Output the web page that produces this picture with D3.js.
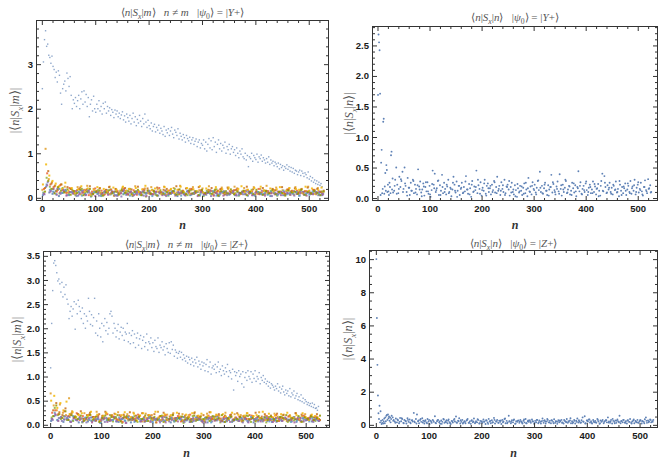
<!DOCTYPE html>
<html><head><meta charset="utf-8">
<script src="https://cdn.jsdelivr.net/npm/d3@7"></script>
<style>
body{margin:0;background:#fff}
svg{display:block}
.tick text{font-family:"Liberation Sans",Arial,sans-serif;font-weight:bold;font-size:9.5px;fill:#1a1a1a}
.tick line{stroke:#333}
.lbl{font-family:"Liberation Serif","Times New Roman",serif;fill:#555;white-space:pre}
</style></head><body>
<svg id="c" width="667" height="460"></svg>
<script>
// ---------------- DATA ----------------
const xMajorTicks = [0, 100, 200, 300, 400, 500];
const tlYTicks = [0, 1, 2, 3];
const trYTicks = [0, 0.5, 1, 1.5, 2, 2.5];
const blYTicks = [0, 0.5, 1, 1.5, 2, 2.5, 3, 3.5];
const brYTicks = [0, 2, 4, 6, 8, 10];

// Top-left |<n|Sx|m>|, n != m, psi0 = Y+ : main (large) branch, n = 1,3,5,...
const tlMain = [2.45,3.05,3.55,3.75,3.4,3.45,3.2,3.15,3.02,3.18,
2.95,2.88,2.7,2.82,2.6,2.85,2.75,2.35,2.1,2.45,
2.55,2.62,2.4,2.8,2.68,2.5,2.72,2.3,2.0,2.2,
2.12,2.25,2.05,2.18,2.3,2.0,2.22,2.38,2.1,2.4,
2.15,2.32,2.05,2.25,1.82,2.1,2.2,1.95,2.28,2.0,
1.92,2.1,2.0,2.18,1.95,2.05,1.88,2.12,2.0,2.15,
1.9,2.05,1.95,2.02,1.85,1.98,1.92,1.8,1.97,1.88,
1.95,1.82,1.9,1.78,1.86,1.93,1.75,1.84,1.7,1.88,
1.8,1.72,1.85,1.66,1.78,1.9,1.7,1.82,1.62,1.76,
1.68,1.85,1.72,1.6,1.78,1.66,1.88,1.7,1.58,1.74,
1.62,1.55,1.68,1.5,1.6,1.65,1.48,1.58,1.52,1.63,
1.45,1.56,1.5,1.42,1.6,1.38,1.52,1.46,1.55,1.4,
1.5,1.58,1.43,1.35,1.52,1.47,1.4,1.55,1.32,1.45,
1.38,1.3,1.42,1.35,1.25,1.4,1.33,1.28,1.36,1.22,
1.3,1.35,1.2,1.27,1.32,1.15,1.25,1.3,1.12,1.22,
1.18,1.3,1.1,1.25,1.05,1.2,1.33,1.12,1.28,1.08,
1.35,1.15,1.25,1.02,1.2,1.3,1.1,1.22,1.05,1.18,
1.12,1.25,1.0,1.15,1.08,1.2,0.98,1.1,1.15,1.02,
1.08,0.95,1.12,1.0,0.9,1.05,0.98,1.1,0.92,0.88,
1.0,0.85,0.95,0.7,0.92,0.88,1.0,0.82,0.95,0.9,
0.86,0.98,0.8,0.92,0.88,0.96,0.82,0.9,0.85,0.78,
0.88,0.8,0.92,0.75,0.85,0.78,0.82,0.72,0.8,0.76,
0.7,0.78,0.65,0.75,0.68,0.72,0.62,0.7,0.66,0.74,
0.64,0.7,0.6,0.68,0.58,0.66,0.55,0.62,0.6,0.52,
0.58,0.62,0.5,0.6,0.55,0.48,0.56,0.52,0.45,0.58,
0.42,0.48,0.38,0.45,0.35,0.4,0.32,0.38,0.3,0.35,
0.28,0.32,0.25];

// Top-left small-element series (every 6th n)
const tlOrange = [.18,1.1,.42,.35,.28,.22,.3,.25,.12,.2,.15,.24,.08,.18,.27,.1,.2,.14,.22,.06,.17,.25,.12,.19,.09,.23,.15,.2,.11,.26,.14,.07,.21,.16,.24,.1,.19,.13,.25,.08,.18,.22,.12,.27,.15,.09,.2,.24,.13,.17,.21,.1,.26,.15,.19,.07,.23,.14,.2,.12,.25,.16,.09,.22,.18,.13,.24,.11,.2,.15,.27,.1,.19,.23,.14,.17,.08,.21,.16,.24,.12,.2,.15,.25,.1,.18,.22,.14];
const tlGold = [.3,.75,.5,.38,.32,.26,.2,.34,.16,.22,.1,.19,.26,.13,.21,.07,.17,.24,.11,.2,.15,.09,.23,.18,.12,.25,.16,.2,.06,.22,.13,.19,.27,.1,.17,.21,.14,.08,.24,.16,.2,.11,.18,.25,.13,.22,.09,.19,.15,.26,.12,.21,.17,.08,.24,.14,.19,.11,.23,.16,.1,.2,.26,.13,.18,.15,.22,.09,.25,.17,.12,.21,.14,.19,.24,.1,.16,.22,.13,.2,.18,.11,.25,.15,.21,.09,.17,.23];
const tlGreen = [.12,.45,.25,.2,.16,.1,.22,.14,.08,.18,.06,.13,.2,.09,.15,.04,.12,.17,.07,.14,.1,.19,.05,.13,.16,.08,.11,.2,.06,.15,.09,.14,.03,.12,.18,.07,.13,.1,.16,.05,.12,.2,.08,.15,.11,.06,.17,.09,.14,.12,.04,.16,.1,.13,.19,.07,.12,.15,.08,.11,.17,.05,.14,.09,.12,.18,.06,.13,.1,.16,.08,.15,.11,.05,.14,.1,.17,.07,.12,.09,.15,.13,.06,.16,.1,.12,.08,.14];
const tlRed = [.2,.55,.3,.24,.14,.28,.18,.11,.22,.15,.09,.2,.12,.17,.06,.14,.21,.1,.16,.08,.13,.18,.05,.15,.11,.2,.09,.14,.17,.07,.12,.19,.1,.15,.08,.13,.22,.11,.06,.16,.14,.09,.18,.12,.07,.15,.2,.1,.13,.17,.08,.12,.16,.05,.14,.19,.11,.09,.15,.12,.18,.07,.13,.16,.1,.14,.06,.2,.12,.09,.15,.11,.17,.08,.13,.1,.19,.14,.07,.16,.12,.09,.15,.11,.18,.08,.13,.1];
const tlPurple = [.08,.35,.16,.12,.2,.09,.15,.06,.13,.1,.04,.11,.16,.07,.12,.09,.14,.05,.1,.13,.08,.15,.06,.11,.03,.12,.09,.14,.07,.1,.13,.05,.11,.08,.16,.06,.1,.12,.04,.09,.14,.07,.11,.13,.05,.1,.08,.15,.06,.12,.09,.11,.04,.13,.07,.1,.15,.06,.09,.12,.05,.11,.08,.14,.1,.06,.13,.09,.07,.12,.1,.04,.11,.08,.13,.06,.1,.12,.05,.09,.14,.07,.11,.08,.1,.13,.06,.09];
const tlSky = [.1,.3,.18,.14,.08,.2,.11,.16,.06,.12,.09,.14,.05,.11,.17,.07,.13,.1,.04,.12,.15,.08,.11,.06,.13,.09,.16,.05,.1,.14,.07,.12,.09,.15,.04,.11,.13,.08,.1,.06,.14,.09,.12,.05,.11,.16,.07,.1,.13,.08,.06,.12,.1,.15,.05,.09,.13,.11,.07,.14,.1,.06,.12,.08,.15,.11,.05,.13,.09,.1,.07,.14,.12,.06,.1,.16,.08,.11,.09,.13,.05,.12,.1,.07,.14,.09,.11,.06];
const tlBlue2 = [.06,.25,.12,.09,.15,.04,.11,.18,.07,.13,.1,.05,.16,.08,.12,.03,.14,.09,.11,.06,.17,.08,.13,.05,.1,.15,.07,.12,.04,.09,.14,.06,.11,.16,.08,.1,.05,.13,.07,.12,.09,.15,.04,.11,.08,.14,.06,.1,.13,.05,.12,.07,.16,.09,.11,.04,.13,.08,.1,.15,.06,.12,.09,.14,.05,.11,.07,.13,.1,.08,.15,.04,.12,.09,.11,.06,.14,.08,.1,.13,.05,.11,.07,.12,.09,.15,.06,.1];
const tlBrown = [.22,.6,.32,.26,.18,.3,.14,.24,.2,.1,.17,.23,.12,.19,.26,.08,.15,.21,.11,.18,.24,.13,.2,.1,.16,.22,.07,.19,.14,.25,.11,.17,.21,.09,.15,.23,.12,.18,.2,.1,.14,.26,.08,.16,.21,.13,.19,.11,.24,.15,.09,.18,.22,.12,.16,.2,.07,.23,.13,.17,.21,.1,.15,.25,.12,.19,.14,.08,.22,.16,.11,.2,.17,.13,.24,.09,.18,.15,.21,.12,.19,.14,.23,.1,.17,.2,.13,.16];
const tlPink = [.09,.28,.14,.2,.07,.12,.17,.05,.13,.1,.15,.08,.12,.06,.16,.1,.04,.13,.09,.15,.07,.11,.14,.05,.1,.17,.08,.12,.06,.13,.1,.15,.04,.11,.08,.14,.12,.06,.16,.09,.11,.05,.13,.1,.07,.15,.09,.12,.04,.14,.08,.11,.16,.06,.1,.13,.05,.12,.09,.15,.07,.1,.13,.08,.14,.06,.11,.09,.16,.05,.12,.1,.08,.14,.06,.13,.11,.07,.15,.09,.1,.13,.05,.12,.08,.11,.14,.07];
const tlOlive = [.14,.38,.2,.1,.24,.16,.12,.19,.07,.15,.11,.18,.06,.14,.2,.09,.13,.16,.05,.12,.17,.1,.14,.07,.19,.11,.15,.08,.13,.18,.06,.12,.16,.1,.14,.05,.17,.09,.13,.11,.15,.07,.19,.12,.08,.16,.1,.14,.06,.18,.11,.13,.09,.17,.05,.15,.12,.1,.19,.08,.14,.11,.16,.06,.13,.09,.18,.12,.07,.15,.1,.17,.08,.13,.11,.05,.16,.12,.14,.09,.18,.07,.13,.1,.15,.11,.06,.14];

// Top-right |<n|Sx|n>|, psi0 = Y+ : n = 1..30, n = 32,34,...,526 and n = 33,37,...,525
const trHead = [1.69,2.68,2.55,2.42,1.71,0.05,0.58,0.79,0.08,0.15,1.25,1.3,0.07,0.19,0.41,0.12,0.54,0.46,0.1,0.22,0.11,0.05,0.25,0.18,0.08,0.7,0.76,0.14,0.32,0.09];
const trTail = [.12,.3,.5,.22,.08,.35,.18,.28,.43,.15,
.5,.2,.1,.33,.17,.05,.25,.12,.3,.08,
.22,.15,.06,.47,.19,.27,.09,.14,.24,.04,
.18,.11,.26,.07,.2,.02,.13,.45,.22,.4,
.1,.16,.28,.05,.21,.12,.38,.08,.25,.15,
.06,.19,.3,.1,.17,.03,.14,.35,.22,.09,
.27,.12,.2,.05,.15,.25,.08,.18,.11,.36,
.14,.07,.23,.16,.02,.28,.1,.19,.13,.45,
.08,.21,.15,.26,.04,.17,.12,.3,.07,.2,
.24,.1,.16,.06,.22,.13,.28,.09,.18,.35,
.12,.2,.05,.26,.15,.1,.3,.08,.19,.22,
.14,.04,.18,.25,.1,.06,.21,.13,.02,.16,
.09,.2,.12,.05,.17,.24,.08,.14,.03,.33,
.11,.19,.06,.26,.15,.22,.09,.17,.28,.13,
.43,.1,.2,.07,.16,.25,.12,.05,.21,.14,
.18,.38,.09,.23,.13,.06,.19,.27,.11,.39,
.15,.04,.22,.1,.17,.28,.08,.14,.2,.06,
.12,.25,.16,.09,.21,.03,.18,.44,.11,.26,
.07,.15,.2,.1,.24,.13,.05,.17,.22,.08,
.14,.27,.1,.19,.06,.16,.23,.12,.04,.28,
.4,.11,.36,.18,.08,.21,.14,.25,.1,.17,
.06,.2,.13,.27,.09,.15,.03,.22,.12,.18,
.08,.16,.24,.05,.14,.2,.1,.28,.07,.19,
.12,.3,.06,.17,.22,.09,.15,.25,.11,.04,
.18,.29,.13,.08,.31,.16,.21,.1];
const trTail2 = [.2,.07,.15,.31,.1,.24,.04,.17,.12,.28,
.09,.21,.14,.03,.19,.26,.11,.06,.23,.16,
.13,.29,.05,.18,.1,.22,.08,.15,.25,.12,
.02,.2,.17,.09,.27,.14,.06,.22,.11,.18,
.3,.07,.13,.24,.04,.16,.2,.1,.26,.08,
.15,.12,.21,.05,.18,.28,.09,.14,.03,.23,
.11,.19,.07,.25,.16,.1,.2,.13,.06,.29,
.17,.08,.22,.12,.04,.18,.26,.1,.15,.07,
.21,.14,.3,.09,.19,.05,.24,.11,.16,.2,
.06,.13,.27,.1,.18,.08,.23,.15,.03,.2,
.12,.25,.09,.17,.07,.22,.14,.1,.28,.05,
.19,.12,.24,.08,.16,.21,.1,.26,.13,.06,
.18,.11,.15,.09];

// Bottom-left |<n|Sx|m>|, n != m, psi0 = Z+ : main branch, n = 1,3,5,...
const blMain = [1.18,2.1,2.78,3.35,3.4,3.3,3.15,2.98,3.02,2.92,
2.75,2.95,2.65,2.85,2.7,2.9,2.6,2.5,2.2,2.35,
2.45,2.25,2.4,2.55,1.98,2.5,2.3,2.58,2.45,2.35,
2.2,2.42,2.1,2.3,2.0,2.25,2.15,2.62,2.35,2.08,
2.28,2.05,2.22,2.62,1.9,2.15,1.85,2.3,2.0,1.82,
2.1,1.72,2.05,2.2,1.95,2.12,1.88,2.0,2.3,2.35,
2.25,1.9,2.1,2.0,1.82,1.95,2.08,1.78,1.92,2.02,
1.85,2.0,1.75,1.92,1.88,2.1,1.72,1.9,1.68,1.85,
1.95,1.7,1.88,1.6,1.8,1.9,1.65,1.78,1.85,1.58,
1.75,1.82,1.62,1.7,1.88,1.55,1.72,1.68,1.8,1.6,
1.7,1.52,1.75,1.62,1.58,1.8,1.5,1.65,1.6,1.72,
1.55,1.62,1.45,1.68,1.58,1.5,1.7,1.48,1.72,1.56,
1.65,1.42,1.55,1.5,1.38,1.48,1.52,1.4,1.5,1.35,
1.45,1.38,1.32,1.42,1.28,1.4,1.35,1.25,1.38,1.3,
1.22,1.35,1.28,1.4,1.2,1.32,1.25,1.15,1.3,1.22,
1.28,1.12,1.25,1.35,1.1,1.2,1.3,1.05,1.18,1.22,
1.15,1.25,1.08,1.2,1.3,1.1,1.15,1.02,1.22,1.12,
1.05,1.18,1.1,1.25,1.0,1.12,1.08,0.95,1.15,0.72,
1.1,1.02,1.08,0.9,1.12,1.0,1.05,0.85,1.1,0.78,
0.98,1.08,0.92,1.12,1.0,0.95,1.1,0.88,1.05,0.96,
1.12,0.9,1.0,0.95,1.08,0.85,0.98,0.92,1.02,0.88,
0.95,0.85,0.9,0.8,0.88,0.76,0.85,0.82,0.78,0.72,
0.8,0.75,0.85,0.7,0.78,0.66,0.74,0.8,0.68,0.62,
0.72,0.65,0.7,0.6,0.75,0.58,0.66,0.62,0.7,0.55,
0.6,0.65,0.52,0.58,0.5,0.62,0.48,0.55,0.45,0.52,
0.48,0.42,0.46,0.4,0.44,0.38,0.45,0.36,0.42,0.34,
0.35,0.3,0.38];

const blOrange = [.65,.4,.3,.42,.25,.2,.55,.28,.18,.22,.13,.24,.1,.2,.16,.27,.09,.19,.23,.12,.2,.15,.26,.08,.18,.22,.11,.25,.14,.19,.07,.23,.16,.2,.12,.27,.1,.18,.21,.13,.24,.09,.17,.22,.15,.2,.11,.26,.14,.18,.08,.23,.16,.12,.21,.19,.1,.25,.13,.17,.22,.09,.2,.15,.24,.11,.18,.14,.26,.12,.19,.16,.1,.23,.17,.13,.21,.08,.2,.15,.24,.11,.18,.22,.14,.19,.1,.16];
const blGold = [.5,.6,.35,.45,.3,.48,.22,.26,.15,.2,.24,.11,.19,.27,.14,.21,.08,.18,.25,.13,.17,.22,.1,.2,.26,.12,.16,.23,.09,.19,.24,.14,.2,.11,.27,.15,.18,.22,.1,.2,.13,.25,.17,.09,.21,.16,.24,.12,.19,.23,.11,.18,.26,.14,.2,.1,.22,.17,.13,.25,.15,.21,.09,.19,.24,.12,.18,.2,.14,.27,.1,.23,.16,.19,.13,.22,.11,.25,.17,.14,.2,.12,.24,.16,.1,.21,.18,.13];
const blGreen = [.15,.35,.2,.12,.18,.1,.22,.08,.16,.13,.05,.14,.19,.09,.12,.17,.06,.13,.1,.2,.07,.15,.11,.04,.16,.09,.13,.18,.06,.12,.14,.08,.17,.1,.05,.13,.19,.09,.11,.15,.07,.12,.16,.04,.14,.1,.18,.08,.13,.11,.06,.15,.09,.17,.12,.05,.14,.1,.16,.08,.13,.11,.07,.15,.18,.06,.12,.09,.14,.1,.05,.16,.11,.13,.08,.17,.12,.06,.14,.09,.11,.15,.07,.13,.1,.16,.08,.12];
const blRed = [.25,.3,.22,.16,.28,.12,.2,.15,.24,.1,.18,.13,.21,.07,.16,.19,.11,.14,.22,.09,.17,.12,.2,.06,.15,.18,.1,.13,.21,.08,.16,.11,.19,.14,.05,.17,.12,.2,.09,.15,.13,.18,.07,.16,.11,.21,.1,.14,.17,.06,.15,.19,.12,.09,.18,.13,.16,.08,.2,.11,.14,.17,.07,.15,.12,.19,.1,.16,.13,.09,.18,.11,.15,.2,.08,.14,.12,.17,.1,.16,.13,.07,.19,.11,.15,.09,.17,.12];
const blPurple = [.1,.2,.14,.08,.17,.11,.06,.15,.09,.12,.13,.05,.1,.16,.08,.11,.14,.06,.12,.09,.15,.07,.1,.13,.04,.11,.16,.08,.12,.1,.06,.14,.09,.11,.13,.05,.1,.15,.07,.12,.09,.14,.11,.06,.13,.1,.08,.15,.12,.05,.11,.14,.07,.1,.13,.09,.06,.12,.15,.08,.1,.13,.05,.11,.09,.14,.12,.07,.1,.16,.08,.12,.11,.06,.14,.09,.13,.1,.07,.12,.15,.08,.11,.1,.13,.06,.12,.09];
const blSky = [.12,.25,.09,.16,.11,.14,.07,.18,.1,.13,.06,.15,.11,.08,.14,.12,.05,.17,.09,.13,.1,.07,.15,.12,.08,.16,.11,.06,.14,.1,.13,.09,.17,.05,.12,.11,.15,.08,.1,.14,.07,.13,.11,.16,.09,.06,.12,.15,.1,.08,.14,.11,.05,.13,.17,.09,.12,.07,.15,.1,.11,.08,.14,.12,.06,.16,.1,.13,.09,.11,.15,.07,.12,.1,.14,.08,.13,.11,.06,.16,.09,.12,.14,.1,.07,.13,.11,.08];
const blBlue2 = [.08,.18,.1,.14,.06,.12,.16,.09,.11,.05,.13,.1,.07,.15,.09,.12,.04,.11,.14,.08,.1,.16,.06,.12,.09,.13,.05,.11,.15,.07,.12,.09,.14,.06,.1,.13,.08,.16,.11,.05,.09,.14,.12,.07,.1,.15,.06,.11,.13,.08,.1,.05,.12,.16,.09,.11,.07,.14,.1,.06,.13,.09,.11,.15,.08,.12,.05,.1,.14,.07,.11,.13,.06,.09,.15,.1,.12,.08,.11,.14,.06,.1,.13,.09,.12,.07,.15,.1];
const blBrown = [.3,.45,.26,.2,.34,.18,.24,.15,.22,.28,.12,.2,.25,.16,.09,.22,.18,.27,.13,.19,.23,.1,.17,.21,.14,.26,.11,.19,.16,.24,.08,.2,.15,.22,.12,.18,.25,.1,.17,.21,.14,.23,.09,.19,.16,.12,.24,.18,.11,.2,.15,.26,.13,.17,.22,.08,.19,.14,.21,.11,.24,.16,.18,.12,.2,.15,.25,.1,.17,.22,.13,.19,.09,.23,.16,.2,.12,.18,.14,.24,.11,.21,.17,.13,.19,.15,.22,.1];
const blPink = [.12,.22,.08,.15,.11,.17,.06,.13,.1,.16,.07,.12,.14,.05,.11,.15,.09,.13,.06,.1,.16,.08,.12,.14,.04,.11,.13,.09,.15,.07,.1,.12,.06,.14,.11,.08,.16,.05,.12,.1,.13,.07,.15,.09,.11,.06,.14,.1,.12,.08,.05,.13,.16,.09,.11,.07,.12,.14,.06,.1,.15,.08,.11,.13,.05,.12,.09,.16,.07,.11,.13,.1,.06,.14,.12,.08,.15,.09,.11,.05,.12,.14,.07,.1,.13,.09,.11,.08];
const blOlive = [.18,.4,.22,.14,.28,.1,.2,.16,.12,.19,.08,.15,.21,.11,.17,.06,.14,.19,.1,.16,.13,.2,.07,.15,.18,.11,.14,.09,.17,.12,.19,.08,.13,.16,.1,.18,.06,.15,.12,.2,.09,.14,.17,.11,.13,.07,.19,.1,.16,.12,.15,.08,.18,.11,.14,.2,.06,.13,.17,.1,.12,.16,.09,.19,.11,.14,.07,.18,.13,.15,.1,.17,.12,.08,.16,.14,.2,.09,.13,.11,.18,.06,.15,.12,.17,.1,.14,.19];

// Bottom-right |<n|Sx|n>|, psi0 = Z+ : n = 1..30, n = 32,34,...,526 and n = 33,37,...,525
const brHead = [10.0,6.45,3.62,1.77,0.7,0.35,1.15,0.15,0.82,0.25,0.05,0.12,0.3,0.08,0.2,0.38,0.1,0.45,0.22,0.55,0.6,0.3,0.62,0.4,0.5,0.25,0.45,0.15,0.35,0.55];
const brTail = [.45,.3,.2,.38,.15,.28,.1,.42,.22,.35,
.12,.3,.25,.08,.4,.18,.32,.1,.27,.2,
.72,.15,.35,.62,.22,.1,.3,.18,.4,.25,
.08,.28,.15,.35,.2,.05,.25,.12,.3,.18,
.52,.1,.22,.3,.15,.07,.26,.18,.35,.12,
.2,.28,.1,.32,.16,.05,.24,.14,.3,.2,
.5,.12,.25,.4,.08,.18,.3,.14,.22,.1,
.26,.35,.12,.2,.06,.28,.16,.38,.1,.22,
.15,.3,.08,.24,.18,.12,.32,.2,.05,.26,
.14,.36,.2,.1,.28,.16,.42,.08,.22,.3,
.12,.25,.18,.05,.3,.2,.35,.1,.24,.15,
.55,.2,.1,.28,.15,.32,.06,.22,.18,.26,
.12,.3,.2,.08,.25,.15,.35,.1,.22,.18,
.28,.12,.32,.2,.06,.24,.16,.3,.1,.26,
.18,.22,.38,.12,.28,.08,.2,.3,.15,.24,
.1,.26,.18,.34,.12,.2,.06,.28,.16,.22,
.3,.14,.08,.24,.2,.35,.12,.18,.26,.1,
.22,.16,.3,.08,.25,.38,.14,.2,.12,.28,
.45,.18,.52,.1,.26,.2,.32,.14,.22,.08,
.3,.16,.24,.12,.35,.2,.06,.26,.18,.3,
.1,.22,.28,.15,.45,.2,.12,.3,.08,.24,
.18,.26,.12,.32,.2,.55,.1,.24,.16,.3,
.14,.22,.08,.28,.18,.35,.12,.2,.26,.1,
.24,.16,.3,.12,.2,.28,.08,.22,.18,.34,
.45,.12,.26,.2,.32,.15,.22,.3];
const brTail2 = [.25,.12,.33,.18,.4,.1,.22,.3,.15,.28,
.2,.08,.26,.35,.14,.22,.1,.3,.18,.24,
.12,.28,.2,.06,.32,.16,.25,.1,.2,.36,
.14,.22,.28,.08,.18,.3,.12,.25,.2,.15,
.34,.1,.22,.18,.28,.06,.24,.14,.3,.2,
.12,.26,.16,.38,.1,.22,.18,.28,.08,.24,
.2,.14,.32,.1,.26,.18,.22,.12,.3,.16,
.08,.24,.2,.35,.14,.28,.1,.22,.18,.26,
.12,.3,.16,.22,.4,.1,.24,.18,.28,.14,
.2,.08,.26,.32,.12,.22,.16,.3,.1,.24,
.18,.28,.14,.2,.36,.1,.25,.16,.22,.3,
.12,.26,.18,.08,.32,.2,.14,.28,.22,.1,
.24,.16,.3,.18];

// ---------------- DRAWING ----------------
const C = {blue:"#5E81B5", orange:"#E19C24", gold:"#F2B705", green:"#8FB032", red:"#EB6235", purple:"#8778B3",
           sky:"#5D9EC7", brown:"#C56E1A", pink:"#A5609D", olive:"#929600"};
const svg = d3.select("#c");
function seq(values, n0, step){ return values.map((v,i)=>({n:n0+i*step, v})); }
const BS = 2, BO = 0.85;

const panels = [
 {l:36.5, r:328.5, t:20.5, b:200.5, xDom:[-10,537], yDom:[-0.06,3.98], yMajor:tlYTicks, yMinorStep:0.2, yFmt:d3.format("d"),
  title:[["⟨"],["n","i"],["|"],["S","i"],["x","s"],["|"],["m","i"],["⟩   "],["n","i"],[" ≠ "],["m","i"],["   |"],["ψ","i"],["0","s"],["⟩ = |"],["Y","i"],["+⟩"]], titleY:16,
  ylab:[["|⟨"],["n","i"],["|"],["S","i"],["x","s"],["|"],["m","i"],["⟩|"]], ylabX:15, xlabY:229,
  series:[
   {d:seq(tlMain,1,2), c:C.blue, s:1.4, o:0.7},
   {d:seq(tlBlue2,2,6), c:C.blue, s:BS, o:BO},
   {d:seq(tlOrange,1,6), c:C.orange, s:BS, o:BO},
   {d:seq(tlGreen,3,6), c:C.green, s:BS, o:BO},
   {d:seq(tlRed,4,6), c:C.red, s:BS, o:BO},
   {d:seq(tlPurple,5,6), c:C.purple, s:BS, o:BO},
   {d:seq(tlBrown,6,6), c:C.brown, s:BS, o:BO},
   {d:seq(tlSky,3,6), c:C.sky, s:BS, o:BO},
   {d:seq(tlGold,2,6), c:C.gold, s:BS, o:BO},
   {d:seq(tlPink,4,6), c:C.pink, s:BS, o:BO},
   {d:seq(tlOlive,6,6), c:C.olive, s:BS, o:BO}
  ]},
 {l:372.5, r:657.5, t:26.5, b:200.5, xDom:[-9.6,538], yDom:[-0.04,2.81], yMajor:trYTicks, yMinorStep:0.1, yFmt:d3.format(".1f"),
  title:[["⟨"],["n","i"],["|"],["S","i"],["x","s"],["|"],["n","i"],["⟩   |"],["ψ","i"],["0","s"],["⟩ = |"],["Y","i"],["+⟩"]], titleY:21,
  ylab:[["|⟨"],["n","i"],["|"],["S","i"],["x","s"],["|"],["n","i"],["⟩|"]], ylabX:349, xlabY:229,
  dots:[seq(trHead,1,1), seq(trTail,32,2), seq(trTail2,33,4)]},
 {l:43.5, r:329.5, t:251.5, b:427.5, xDom:[-13,546.6], yDom:[-0.056,3.59], yMajor:blYTicks, yMinorStep:0.1, yFmt:d3.format(".1f"),
  title:[["⟨"],["n","i"],["|"],["S","i"],["x","s"],["|"],["m","i"],["⟩   "],["n","i"],[" ≠ "],["m","i"],["   |"],["ψ","i"],["0","s"],["⟩ = |"],["Z","i"],["+⟩"]], titleY:248,
  ylab:[["|⟨"],["n","i"],["|"],["S","i"],["x","s"],["|"],["m","i"],["⟩|"]], ylabX:17, xlabY:457,
  series:[
   {d:seq(blMain,1,2), c:C.blue, s:1.4, o:0.7},
   {d:seq(blBlue2,2,6), c:C.blue, s:BS, o:BO},
   {d:seq(blOrange,1,6), c:C.orange, s:BS, o:BO},
   {d:seq(blGreen,3,6), c:C.green, s:BS, o:BO},
   {d:seq(blRed,4,6), c:C.red, s:BS, o:BO},
   {d:seq(blPurple,5,6), c:C.purple, s:BS, o:BO},
   {d:seq(blBrown,6,6), c:C.brown, s:BS, o:BO},
   {d:seq(blSky,3,6), c:C.sky, s:BS, o:BO},
   {d:seq(blGold,2,6), c:C.gold, s:BS, o:BO},
   {d:seq(blPink,4,6), c:C.pink, s:BS, o:BO},
   {d:seq(blOlive,6,6), c:C.olive, s:BS, o:BO}
  ]},
 {l:369.5, r:657.5, t:250.5, b:427.5, xDom:[-12,534], yDom:[-0.16,10.52], yMajor:brYTicks, yMinorStep:0.5, yFmt:d3.format("d"),
  title:[["⟨"],["n","i"],["|"],["S","i"],["x","s"],["|"],["n","i"],["⟩   |"],["ψ","i"],["0","s"],["⟩ = |"],["Z","i"],["+⟩"]], titleY:247,
  ylab:[["|⟨"],["n","i"],["|"],["S","i"],["x","s"],["|"],["n","i"],["⟩|"]], ylabX:348, xlabY:457,
  dots:[seq(brHead,1,1), seq(brTail,32,2), seq(brTail2,33,4)]}
];

function richText(sel, parts, size){
  let shift = 0;
  parts.forEach(p=>{
    const ts = sel.append("tspan").text(p[0]);
    if(p[1]==="s"){
      ts.attr("font-size", size*0.7).attr("dy", size*0.25);
      if(p[0]==="x") ts.attr("font-style","italic");
      shift = size*0.25;
    } else if(shift){ ts.attr("dy", -shift); shift = 0; }
    if(p[1]==="i"){ ts.attr("font-style","italic"); }
  });
}

panels.forEach(P=>{
  const g = svg.append("g");
  const x = d3.scaleLinear().domain(P.xDom).range([P.l, P.r]);
  const y = d3.scaleLinear().domain(P.yDom).range([P.b, P.t]);

  if(P.series){
    P.series.forEach(s=>{
      g.append("g").selectAll("rect").data(s.d).join("rect")
        .attr("x", d=>x(d.n)-s.s/2).attr("y", d=>y(d.v)-s.s/2)
        .attr("width", s.s).attr("height", s.s)
        .attr("fill", s.c).attr("fill-opacity", s.o);
    });
  }
  if(P.dots){
    P.dots.forEach(arr=>{
      g.append("g").selectAll("circle").data(arr).join("circle")
        .attr("cx", d=>x(d.n)).attr("cy", d=>y(d.v)).attr("r", 0.95)
        .attr("fill", C.blue);
    });
  }

  const xMinor = d3.range(0, 560, 20).filter(v=>v%100!==0 && v<=P.xDom[1]);
  const nMin = Math.floor(P.yDom[1]/P.yMinorStep+1e-9);
  const yMinor = d3.range(0, nMin+1).map(i=>+(i*P.yMinorStep).toFixed(3)).filter(v=>!P.yMajor.some(m=>Math.abs(m-v)<1e-6) && v<=P.yDom[1]);

  const add = (axis, tx, ty)=>{ const a=g.append("g").attr("transform",`translate(${tx},${ty})`).call(axis); a.select(".domain").remove(); return a; };
  add(d3.axisBottom(x).tickValues(xMajorTicks).tickSize(-4.5).tickPadding(5).tickFormat(d3.format("d")), 0, P.b);
  add(d3.axisBottom(x).tickValues(xMinor).tickSize(-2.5).tickFormat(""), 0, P.b);
  add(d3.axisTop(x).tickValues(xMajorTicks).tickSize(-4.5).tickFormat(""), 0, P.t);
  add(d3.axisTop(x).tickValues(xMinor).tickSize(-2.5).tickFormat(""), 0, P.t);
  add(d3.axisLeft(y).tickValues(P.yMajor).tickSize(-4.5).tickPadding(3.5).tickFormat(P.yFmt), P.l, 0);
  add(d3.axisLeft(y).tickValues(yMinor).tickSize(-2.5).tickFormat(""), P.l, 0);
  add(d3.axisRight(y).tickValues(P.yMajor).tickSize(-4.5).tickFormat(""), P.r, 0);
  add(d3.axisRight(y).tickValues(yMinor).tickSize(-2.5).tickFormat(""), P.r, 0);

  g.append("rect").attr("x",P.l).attr("y",P.t).attr("width",P.r-P.l).attr("height",P.b-P.t)
   .attr("fill","none").attr("stroke","#333").attr("stroke-width",1);

  const tt = g.append("text").attr("class","lbl").attr("x",(P.l+P.r)/2).attr("y",P.titleY)
    .attr("text-anchor","middle").attr("font-size",11);
  richText(tt, P.title, 11);

  const cy = (P.t+P.b)/2;
  const yl = g.append("text").attr("class","lbl").attr("transform",`translate(${P.ylabX},${cy}) rotate(-90)`)
    .attr("text-anchor","middle").attr("dy","0.35em").attr("font-size",12.5);
  richText(yl, P.ylab, 12.5);

  g.append("text").attr("class","lbl").attr("x",(P.l+P.r)/2).attr("y",P.xlabY)
    .attr("text-anchor","middle").attr("font-size",12).attr("font-style","italic").attr("font-weight","bold")
    .style("fill","#333").text("n");
});
</script>
</body></html>
